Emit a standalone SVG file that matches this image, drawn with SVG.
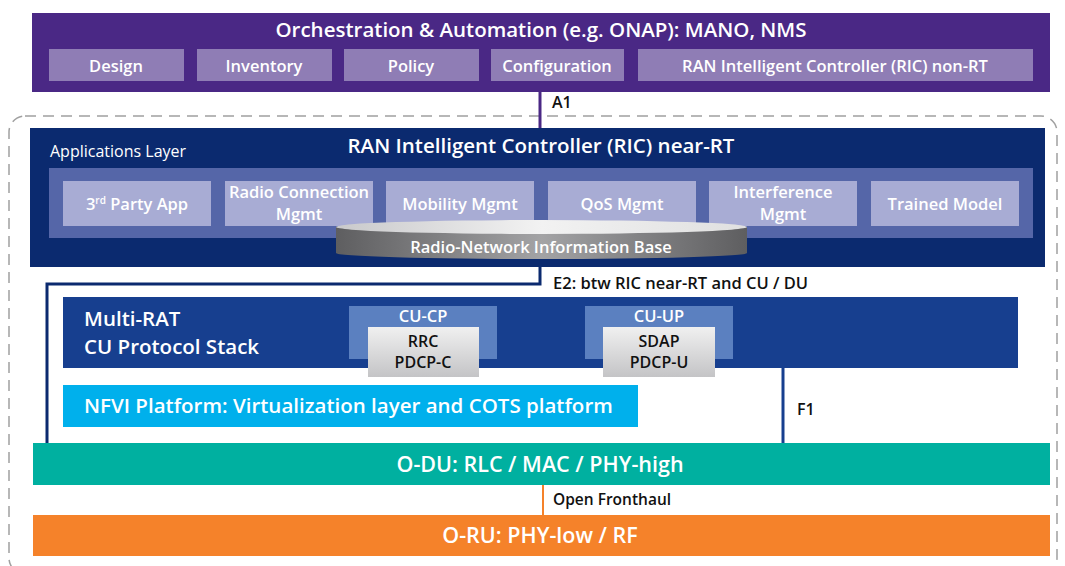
<svg xmlns="http://www.w3.org/2000/svg" width="1065" height="566" viewBox="0 0 1065 566">
<defs>
<style>
text{font-family:"Open Sans","Noto Sans","Liberation Sans",sans-serif;}
.w{fill:#fff;}
.k{fill:#111;}
.c{text-anchor:middle;}
.t20{font-size:20.5px;font-weight:600;}
.t16{font-size:16.5px;font-weight:600;}
.t15{font-size:16px;font-weight:600;}
.sub{fill:#8f7db5;}
.app{fill:#a8acd4;}
.cu{fill:#5b80c0;}
.proto{fill:url(#gGray);}
</style>
<linearGradient id="gGray" x1="0" y1="0" x2="0" y2="1">
<stop offset="0" stop-color="#f0f0f0"/>
<stop offset="1" stop-color="#c4c4c6"/>
</linearGradient>
<linearGradient id="gCyl" x1="0" y1="0" x2="1" y2="0">
<stop offset="0" stop-color="#5e5e60"/>
<stop offset="0.5" stop-color="#a3a3a5"/>
<stop offset="1" stop-color="#5e5e60"/>
</linearGradient>
<linearGradient id="gTop" x1="0" y1="0" x2="1" y2="0">
<stop offset="0" stop-color="#c9c9cb"/>
<stop offset="0.5" stop-color="#f2f2f2"/>
<stop offset="1" stop-color="#e0e0e0"/>
</linearGradient>
</defs>

<rect id="boundary" x="9" y="116" width="1048" height="458" rx="16" fill="none" stroke="#a0a0a0" stroke-width="1.5" stroke-dasharray="11 7"/>

<g id="connectors">
<line x1="540" y1="92" x2="540" y2="128" stroke="#4a2885" stroke-width="3"/>
<text class="k t15" x="552" y="108">A1</text>
<polyline points="540,267 540,284 47,284 47,443" fill="none" stroke="#0b2a6f" stroke-width="3"/>
<text class="k" x="553" y="289" font-size="16.5" font-weight="600">E2: btw RIC near-RT and CU / DU</text>
<line x1="783" y1="368" x2="783" y2="443" stroke="#173f8f" stroke-width="3"/>
<text class="k t15" x="797" y="415">F1</text>
<line x1="497" y1="332" x2="585" y2="332" stroke="#3a6fc0" stroke-width="3"/>
<text class="w t15" x="532" y="327">E1</text>
<line x1="543" y1="485" x2="543" y2="515" stroke="#f5822a" stroke-width="2"/>
<text class="k" x="553" y="505" font-size="15.5" font-weight="600">Open Fronthaul</text>
</g>

<g id="orchestration">
<rect x="32" y="13" width="1018" height="79" fill="#4a2885"/>
<text class="w t20 c" x="541" y="37">Orchestration &amp; Automation (e.g. ONAP): MANO, NMS</text>
</g>
<g id="design"><rect class="sub" x="49" y="49" width="135" height="32"/><text class="w t16 c" x="116" y="72">Design</text></g>
<g id="inventory"><rect class="sub" x="197" y="49" width="135" height="32"/><text class="w t16 c" x="264" y="72">Inventory</text></g>
<g id="policy"><rect class="sub" x="344" y="49" width="135" height="32"/><text class="w t16 c" x="411" y="72">Policy</text></g>
<g id="configuration"><rect class="sub" x="491" y="49" width="133" height="32"/><text class="w t16 c" x="557" y="72">Configuration</text></g>
<g id="ric-nonrt"><rect class="sub" x="638" y="49" width="395" height="32"/><text class="w t16 c" x="835" y="72">RAN Intelligent Controller (RIC) non-RT</text></g>

<g id="ric-nearrt">
<rect x="30" y="128" width="1015" height="139" fill="#0b2a6f"/>
<text class="w t20 c" x="541" y="153">RAN Intelligent Controller (RIC) near-RT</text>
<text class="w" x="50" y="157" font-size="16">Applications Layer</text>
<rect x="49" y="168" width="984" height="70" fill="#5566a8"/>
</g>
<g id="app-3rd"><rect class="app" x="63" y="181" width="148" height="45"/><text class="w t16 c" x="137" y="210">3<tspan font-size="10" dy="-6">rd</tspan><tspan dy="6"> Party App</tspan></text></g>
<g id="app-rcm"><rect class="app" x="225" y="181" width="148" height="45"/><text class="w t16 c" x="299" y="198">Radio Connection</text><text class="w t16 c" x="299" y="220">Mgmt</text></g>
<g id="app-mob"><rect class="app" x="386" y="181" width="148" height="45"/><text class="w t16 c" x="460" y="210">Mobility Mgmt</text></g>
<g id="app-qos"><rect class="app" x="548" y="181" width="148" height="45"/><text class="w t16 c" x="622" y="210">QoS Mgmt</text></g>
<g id="app-int"><rect class="app" x="709" y="181" width="148" height="45"/><text class="w t16 c" x="783" y="198">Interference</text><text class="w t16 c" x="783" y="220">Mgmt</text></g>
<g id="app-tm"><rect class="app" x="871" y="181" width="148" height="45"/><text class="w t16 c" x="945" y="210">Trained Model</text></g>

<g id="rnib">
<path d="M336,227 L336,253 A205.5,6 0 0 0 747,253 L747,227 Z" fill="url(#gCyl)"/>
<ellipse cx="541.5" cy="227" rx="205.5" ry="7" fill="url(#gTop)"/>
<text class="w t16 c" x="541" y="253">Radio-Network Information Base</text>
</g>

<g id="cu-stack">
<rect x="63" y="297" width="955" height="71" fill="#173f8f"/>
<text class="w" x="84" y="326" font-size="20.5" font-weight="600">Multi-RAT</text>
<text class="w" x="84" y="354" font-size="20.5" font-weight="600">CU Protocol Stack</text>
</g>
<g id="cu-cp">
<rect class="cu" x="349" y="306" width="148" height="53"/>
<text class="w t16 c" x="423" y="322">CU-CP</text>
<rect class="proto" x="368" y="327" width="111" height="50"/>
<text class="k t15 c" x="423" y="347">RRC</text>
<text class="k t15 c" x="423" y="368">PDCP-C</text>
</g>
<g id="cu-up">
<rect class="cu" x="585" y="306" width="148" height="53"/>
<text class="w t16 c" x="659" y="322">CU-UP</text>
<rect class="proto" x="603" y="327" width="112" height="50"/>
<text class="k t15 c" x="659" y="347">SDAP</text>
<text class="k t15 c" x="659" y="368">PDCP-U</text>
</g>

<g id="nfvi">
<rect x="63" y="385" width="575" height="42" fill="#00b0ec"/>
<text class="w t20" x="84" y="413">NFVI Platform: Virtualization layer and COTS platform</text>
</g>

<g id="o-du">
<rect x="33" y="443" width="1017" height="42" fill="#00b0a0"/>
<text class="w c" x="540" y="472" font-size="21.5" font-weight="600">O-DU: RLC / MAC / PHY-high</text>
</g>
<g id="o-ru">
<rect x="33" y="515" width="1017" height="41" fill="#f5822a"/>
<text class="w c" x="540" y="543" font-size="21.5" font-weight="600">O-RU: PHY-low / RF</text>
</g>
</svg>
